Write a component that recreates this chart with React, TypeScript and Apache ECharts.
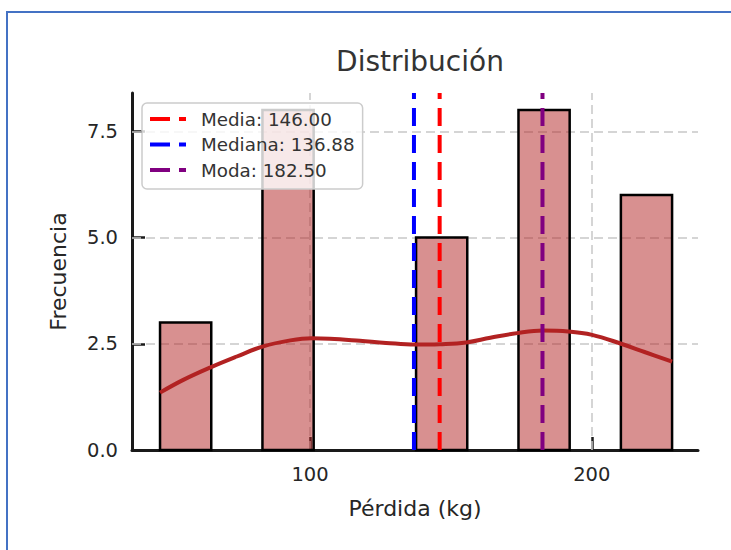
import React, { useEffect, useRef } from "react";
import * as echarts from "echarts";

const FONT = "DejaVu Sans";

// Histogram bins (edges) and counts
const binEdges = [46.75, 64.93, 83.1, 101.28, 119.45, 137.63, 155.8, 173.98, 192.15, 210.33, 228.5];
const binCounts = [3, 0, 8, 0, 0, 5, 0, 8, 0, 6];

// KDE curve
const kdeX = [46.75, 55, 64.5, 74, 83.4, 93, 100.6, 107, 117.7, 127, 137.3, 146, 155.4, 164, 173.5, 182.7, 191.6, 200.1, 210.4, 219, 228.5];
const kdeY = [1.35, 1.65, 1.94, 2.2, 2.44, 2.58, 2.63, 2.62, 2.57, 2.52, 2.48, 2.49, 2.53, 2.64, 2.75, 2.81, 2.79, 2.71, 2.5, 2.3, 2.08];

// Statistics
const statNames = ["Media", "Mediana", "Moda"];
const statValues = [146.0, 136.88, 182.5];
const statColors = ["#ff0000", "#0000ff", "#800080"];

// Ticks
const xTicks = [100, 200];
const yTicks = [0, 2.5, 5, 7.5];

const X_MIN = 36.8;
const X_MAX = 237.7;
const Y_MIN = 0;
const Y_MAX = 8.4;

export default function App() {
  const ref = useRef<HTMLDivElement>(null);

  useEffect(() => {
    if (!ref.current) return;
    const chart = echarts.init(ref.current, undefined, { renderer: "svg" });

    const bins = binCounts
      .map((c, i) => [binEdges[i], binEdges[i + 1], c])
      .filter((d) => d[2] > 0);

    const legendLabels = statNames.map((n, i) => `${n}: ${statValues[i].toFixed(2)}`);

    const statSeries = statValues.map((v, i) => ({
      name: legendLabels[i],
      type: "line",
      z: 5,
      color: statColors[i],
      showSymbol: false,
      symbol: "none",
      silent: true,
      data: [
        [v, Y_MIN],
        [v, Y_MAX],
      ],
      lineStyle: { color: statColors[i], width: 4, type: [18, 9] },
    }));

    const option: any = {
      animation: false,
      backgroundColor: "#ffffff",
      title: {
        text: "Distribución",
        left: 415,
        top: 42,
        textAlign: "center",
        textStyle: { fontFamily: FONT, fontSize: 28, fontWeight: "normal", color: "#333333" },
      },
      graphic: [
        {
          type: "rect",
          shape: { x: 7, y: 12, width: 800, height: 600 },
          style: { fill: "none", stroke: "#4472c4", lineWidth: 2 },
          silent: true,
          z: 0,
        },
      ],
      legend: {
        orient: "vertical",
        left: 142,
        top: 103,
        padding: [6, 8, 9, 8],
        itemGap: 5.5,
        itemWidth: 36,
        itemHeight: 4,
        icon: "path://M0,0H20V4H0Z M29,0H36V4H29Z",
        backgroundColor: "rgba(255,255,255,0.8)",
        borderColor: "#cccccc",
        borderWidth: 1.5,
        borderRadius: 5,
        z: 10,
        textStyle: { fontFamily: FONT, fontSize: 18.3, color: "#333333", lineHeight: 20, padding: [0, 0, 0, 10] },
        data: legendLabels,
      },
      grid: { left: 132, right: 33, top: 93, bottom: 100 },
      xAxis: {
        type: "value",
        min: X_MIN,
        max: X_MAX,
        name: "Pérdida (kg)",
        nameLocation: "middle",
        nameGap: 47,
        nameTextStyle: { fontFamily: FONT, fontSize: 22, color: "#262626" },
        axisLine: { show: true, onZero: false, lineStyle: { color: "#1a1a1a", width: 3 } },
        axisTick: { show: true, inside: true, length: 13, customValues: xTicks, lineStyle: { color: "#1a1a1a", width: 2.5 } },
        axisLabel: {
          customValues: xTicks,
          margin: 14,
          fontFamily: FONT,
          fontSize: 19.5,
          color: "#262626",
          formatter: (v: number) => String(Math.round(v)),
        },
        splitLine: { show: false },
      },
      yAxis: {
        type: "value",
        min: Y_MIN,
        max: Y_MAX,
        name: "Frecuencia",
        nameLocation: "middle",
        nameGap: 63,
        nameRotate: 90,
        nameTextStyle: { fontFamily: FONT, fontSize: 22, color: "#262626" },
        axisLine: { show: true, onZero: false, lineStyle: { color: "#1a1a1a", width: 3 } },
        axisTick: { show: true, inside: true, length: 13, customValues: yTicks, lineStyle: { color: "#1a1a1a", width: 2.5 } },
        axisLabel: {
          customValues: yTicks,
          margin: 14,
          fontFamily: FONT,
          fontSize: 19.5,
          color: "#262626",
          formatter: (v: number) => v.toFixed(1),
        },
        splitLine: { show: false },
      },
      series: [
        {
          type: "line",
          z: 1,
          silent: true,
          data: [],
          markLine: {
            z: 1,
            silent: true,
            symbol: "none",
            label: { show: false },
            lineStyle: { color: "#c8c8c8", width: 1.5, type: [9, 5] },
            data: [
              ...yTicks.filter((t) => t > 0).map((t) => ({ yAxis: t })),
              ...xTicks.map((t) => ({ xAxis: t })),
            ],
          },
        },
        {
          type: "custom",
          z: 3,
          silent: true,
          data: bins,
          renderItem: (params: any, api: any) => {
            const x0 = api.value(0);
            const x1 = api.value(1);
            const c = api.value(2);
            const p0 = api.coord([x0, c]);
            const p1 = api.coord([x1, 0]);
            return {
              type: "rect",
              shape: { x: p0[0], y: p0[1], width: p1[0] - p0[0], height: p1[1] - p0[1] },
              style: { fill: "rgba(178,34,34,0.5)", stroke: "#000000", lineWidth: 2.5 },
            };
          },
        },
        {
          type: "line",
          z: 4,
          silent: true,
          smooth: 0.4,
          showSymbol: false,
          symbol: "none",
          data: kdeX.map((x, i) => [x, kdeY[i]]),
          lineStyle: { color: "#b22222", width: 4 },
        },
        ...statSeries,
      ],
    };

    chart.setOption(option);
    return () => chart.dispose();
  }, []);

  return (
    <div
      ref={ref}
      style={{ position: "absolute", left: 0, top: 0, width: 731, height: 550 }}
    />
  );
}
